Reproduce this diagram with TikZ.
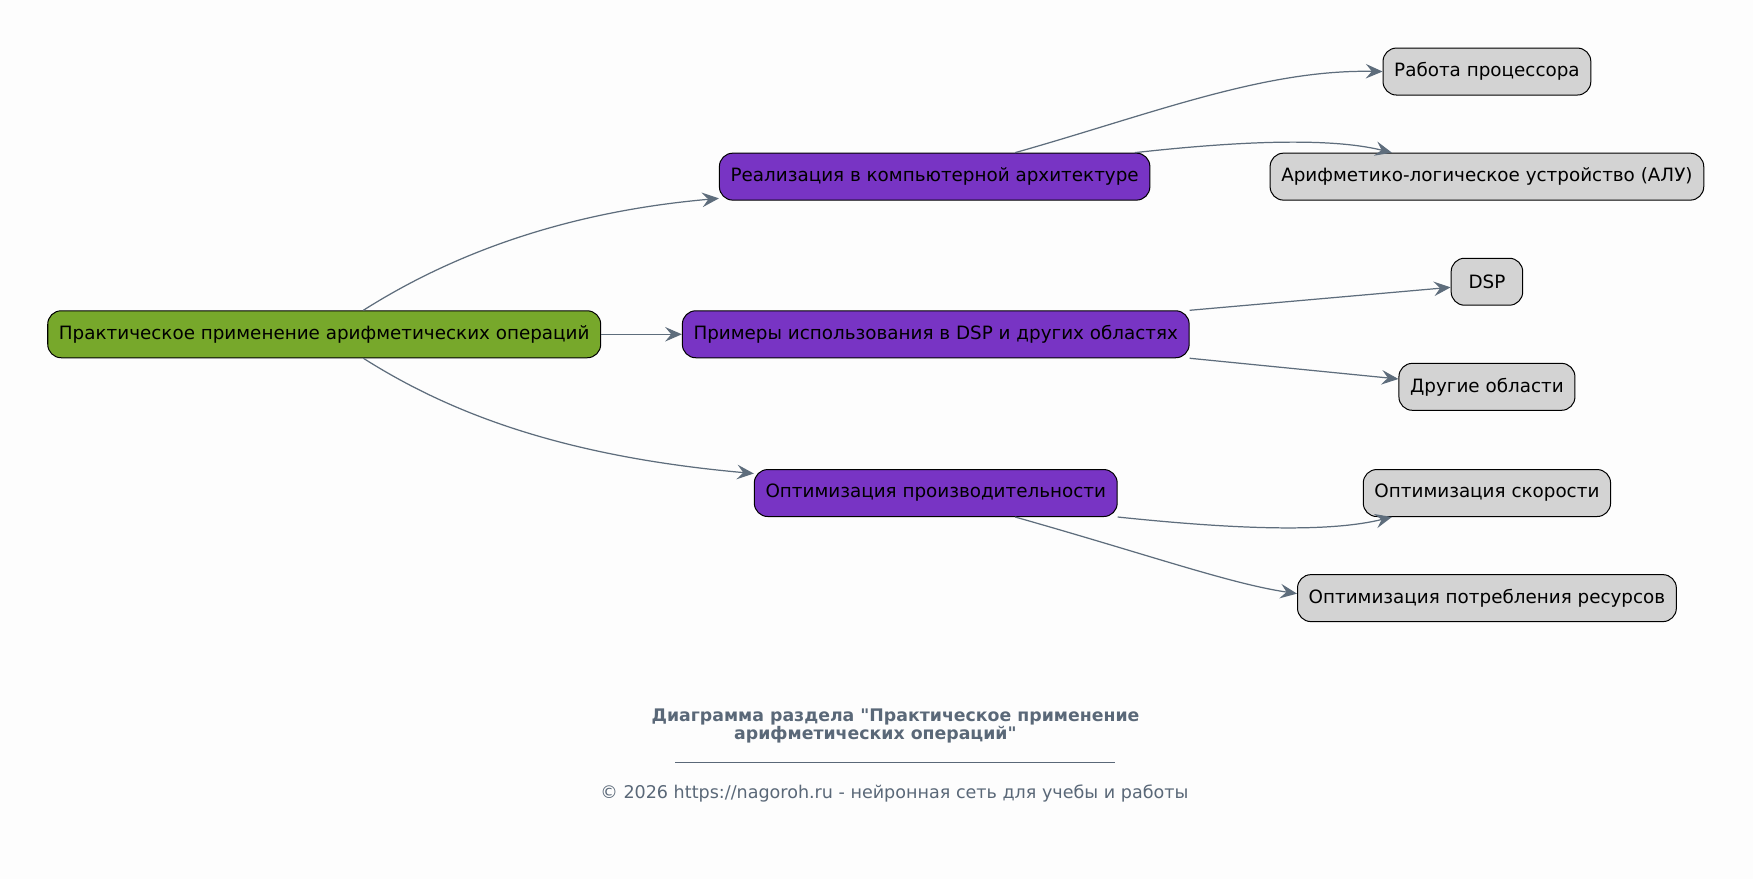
\documentclass[tikz,border=0pt]{standalone}
\usepackage{fontspec}
\setmainfont{DejaVu Sans}[Ligatures=TeXOff]
\usetikzlibrary{arrows.meta}
\definecolor{bgc}{HTML}{FDFDFD}
\definecolor{greenc}{HTML}{77A82B}
\definecolor{purplec}{HTML}{7834C4}
\definecolor{grayc}{HTML}{D3D3D3}
\definecolor{edgec}{HTML}{5E6D7C}
\definecolor{textc}{HTML}{5A6878}
\tikzset{
  box/.style={draw=black, line width=0.9pt, rounded corners=12pt, minimum height=42pt, minimum width=64pt, inner xsep=10pt, inner ysep=0pt, font=\fontsize{16.4}{19}\selectfont, text=black, anchor=center},
  rootbox/.style={box, fill=greenc},
  midbox/.style={box, fill=purplec},
  leafbox/.style={box, fill=grayc},
  link/.style={draw=edgec, line width=1.1pt, -{Stealth[length=15pt, width=13pt, inset=5.5pt]}},
  titletext/.style={font=\bfseries\fontsize{15.5}{18}\selectfont, text=textc},
}
\begin{document}
\begin{tikzpicture}[x=1pt, y=-1pt]
\fill[bgc] (0,0) rectangle (1568,786);
\useasboundingbox (0,0) rectangle (1568,786);

\node[rootbox] (main) at (290,299) {Практическое применение арифметических операций};
\node[midbox] (real) at (836,158) {Реализация в компьютерной архитектуре};
\node[midbox] (prim) at (837,299) {Примеры использования в DSP и других областях};
\node[midbox] (opt) at (837,441) {Оптимизация производительности};
\node[leafbox] (rab) at (1330,64) {Работа процессора};
\node[leafbox] (alu) at (1330,158) {Арифметико-логическое устройство (АЛУ)};
\node[leafbox] (dsp) at (1330,252) {DSP};
\node[leafbox] (dr) at (1330,346) {Другие области};
\node[leafbox] (sk) at (1330,441) {Оптимизация скорости};
\node[leafbox] (pot) at (1330,535) {Оптимизация потребления ресурсов};

\draw[link] ([xshift=35pt]main.north) .. controls (400,230) and (500,190) .. ([yshift=2pt]real.south west);
\draw[link] (main.east) -- (prim.west);
\draw[link] ([xshift=35pt]main.south) .. controls (400,368) and (500,408) .. ([yshift=-4pt]opt.north west);

\draw[link] ([xshift=72pt]real.north) .. controls (1030,102) and (1130,62) .. (rab.west);
\draw[link] ([xshift=179pt]real.north) .. controls (1110,126) and (1190,123) .. ([xshift=-85pt]alu.north);
\draw[link] (prim.north east) -- ([yshift=-5pt]dsp.west);
\draw[link] (prim.south east) -- ([yshift=7pt]dr.west);
\draw[link] (opt.south east) .. controls (1110,474) and (1190,476) .. ([xshift=-85pt]sk.south);
\draw[link] ([xshift=71pt]opt.south) .. controls (1030,497) and (1100,522) .. ([yshift=4pt]pot.west);

\node[titletext] (t1) at (801,641) {Диаграмма раздела "Практическое применение};
\node[titletext] (t2) at (783,657) {арифметических операций"};
\draw[textc, line width=0.8pt] (604,682) coordinate (la) -- (997,682) coordinate (lb);
\node[font=\fontsize{15.7}{18}\selectfont, text=textc] (copy) at (800,710) {© 2026 https://nagoroh.ru - нейронная сеть для учебы и работы};
\end{tikzpicture}
\end{document}
